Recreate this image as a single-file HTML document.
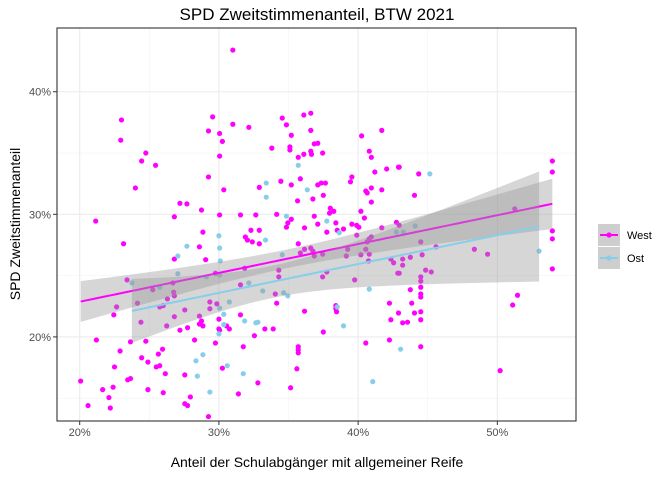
<!DOCTYPE html>
<html><head><meta charset="utf-8"><style>
html,body{margin:0;padding:0;background:#fff;}
svg{display:block;font-family:"Liberation Sans",sans-serif;}
</style></head><body>
<svg id="chart" width="672" height="480">
<text x="317" y="20" text-anchor="middle" font-size="17" fill="#000">SPD Zweitstimmenanteil, BTW 2021</text>
<g id="panel"></g>
<text x="317" y="467" text-anchor="middle" font-size="14" fill="#000">Anteil der Schulabgänger mit allgemeiner Reife</text>
<text transform="translate(20,224) rotate(-90)" text-anchor="middle" font-size="14" fill="#000">SPD Zweitstimmenanteil</text>
<g id="legend"></g>
</svg>
<script>
const westX=[23.0,22.95,24.75,24.45,25.45,24.0,21.15,27.2,27.7,28.75,26.8,29.55,29.25,30.05,30.25,30.05,29.25,30.35,30.05,31.0,31.0,32.15,34.55,36.1,36.6,34.85,36.6,35.2,40.25,41.7,33.8,35.1,35.1,36.85,37.1,35.7,36.1,36.6,36.65,37.45,40.8,40.95,41.2,42.05,42.9,39.55,39.45,32.9,34.45,35.85,35.2,37.1,37.35,37.65,35.65,36.75,37.5,40.55,40.65,40.95,41.7,40.95,38.0,38.25,37.95,40.2,40.45,31.55,32.65,34.15,35.2,34.95,34.85,36.85,37.1,38.4,39.55,39.9,40.05,42.75,36.15,38.95,41.7,28.85,28.6,23.15,26.8,29.05,23.4,25.25,26.75,26.8,26.3,24.15,22.65,26.0,25.75,22.45,27.55,29.35,29.85,29.35,28.6,26.8,24.4,28.75,28.6,28.85,30.0,26.25,27.2,27.75,30.0,30.05,30.55,30.75,29.75,26.7,21.2,23.65,24.75,22.9,25.95,25.65,24.45,24.9,28.25,29.75,22.5,25.5,25.75,26.15,27.55,30.25,20.07,21.65,22.4,23.45,23.65,22.1,24.9,26.0,27.95,20.6,22.2,27.55,27.75,29.25,32.3,32.9,31.9,32.05,32.4,32.9,37.75,38.5,39.9,35.7,35.85,36.15,36.6,36.75,36.85,37.45,39.15,39.25,40.2,40.55,40.8,40.75,40.65,40.8,40.95,42.35,42.55,42.85,31.85,34.3,34.3,31.55,34.05,34.15,37.45,37.75,39.75,36.15,38.4,38.4,38.45,42.25,42.35,42.9,31.55,33.3,33.9,32.55,37.5,31.75,35.7,35.7,35.7,40.55,42.25,35.6,32.8,35.15,31.4,42.95,44.35,44.05,53.95,53.95,51.25,42.95,53.95,53.95,53.95,44.5,45.6,48.35,49.3,44.6,43.75,43.2,43.2,42.95,44.85,45.25,44.5,44.5,44.5,43.75,44.5,44.5,43.85,51.45,51.1,44.05,44.5,43.2,43.55,44.5,44.5,50.2];
const westY=[37.7,36.05,35.0,34.35,34.0,32.15,29.45,30.9,30.85,30.35,29.8,37.95,36.8,36.6,35.95,34.75,33.05,32.0,29.95,43.4,37.35,37.1,37.85,38.1,38.25,37.3,36.85,36.45,36.4,36.85,35.4,35.5,35.25,35.75,35.8,34.65,34.9,35.15,34.9,35.0,35.15,34.65,33.45,33.7,33.85,33.05,32.65,32.2,32.7,32.9,32.4,32.4,32.55,32.55,31.1,31.25,31.55,31.9,31.75,32.15,32.0,31.0,30.5,30.25,30.1,30.25,29.7,29.95,29.95,30.0,29.6,29.3,28.95,29.85,29.2,29.3,29.2,29.1,28.95,29.35,28.9,28.8,28.9,28.55,27.35,27.6,26.35,26.3,24.65,23.85,23.65,23.35,23.1,22.75,22.45,22.55,22.45,21.8,22.2,22.85,22.7,22.3,21.7,21.65,21.2,21.3,21.05,20.9,21.45,20.9,20.55,20.75,20.65,20.55,20.9,20.65,25.2,24.4,19.75,19.6,19.65,18.85,19.0,18.6,18.3,17.95,19.75,19.5,17.55,17.55,17.65,17.0,16.9,17.45,16.4,15.7,15.9,16.5,16.6,15.05,15.7,15.45,15.1,14.4,14.2,14.55,14.4,13.5,28.7,28.7,28.15,27.9,27.75,27.6,28.55,28.7,28.3,27.6,26.85,27.15,27.25,27.0,26.6,26.75,26.6,27.15,26.7,27.15,26.75,26.2,27.75,28.0,28.15,26.35,26.05,25.2,25.6,25.45,24.9,24.25,23.5,22.75,24.9,25.3,24.65,22.1,22.55,22.3,22.05,22.75,21.4,21.95,21.8,20.65,20.65,20.1,20.4,19.2,19.2,18.95,18.7,19.5,19.75,17.4,16.25,15.85,15.35,33.85,33.3,31.55,34.35,33.45,30.45,29.1,28.65,28.0,25.55,27.75,27.35,27.15,26.75,26.7,26.5,26.35,25.85,25.2,25.45,25.3,24.9,24.55,24.05,23.85,23.5,23.25,22.75,23.4,22.6,21.95,22.05,21.15,21.2,21.4,19.2,17.25];
const ostX=[35.7,33.4,36.35,33.4,34.85,37.75,30.0,27.7,30.05,27.05,30.1,27.05,23.75,25.75,29.1,30.05,30.75,30.05,30.35,30.35,30.0,28.85,28.35,28.45,29.35,30.6,33.35,38.65,42.75,34.55,32.15,33.15,34.65,34.95,40.8,38.5,31.85,32.65,32.8,38.95,31.75,41.05,45.15,44.1,53.0,43.25,43.05];
const ostY=[34.0,32.55,32.0,31.4,29.85,29.45,28.25,27.4,27.25,26.6,26.2,25.15,24.4,24.05,24.9,25.05,22.85,22.35,21.85,21.0,20.25,18.55,18.05,16.8,15.5,17.65,27.9,28.5,28.55,26.7,24.4,23.75,23.6,23.35,23.9,22.45,21.3,21.15,21.2,20.9,17.0,16.35,33.3,29.05,27.0,28.55,19.0];
const xTicks=[20,30,40,50];
const yTicks=[20,30,40];
const xMinor=[25,35,45];
const yMinor=[15,25,35];

const NS="http://www.w3.org/2000/svg";
const P={l:57,r:576,t:28,b:421};
const xDom=[18.37,55.65], yDom=[13.14,45.2];
const sx=v=>P.l+(v-xDom[0])/(xDom[1]-xDom[0])*(P.r-P.l);
const sy=v=>P.b-(v-yDom[0])/(yDom[1]-yDom[0])*(P.b-P.t);
const panel=document.getElementById('panel');
function mk(tag,attrs,parent){const e=document.createElementNS(NS,tag);for(const k in attrs)e.setAttribute(k,attrs[k]);(parent||panel).appendChild(e);return e;}
mk('rect',{x:P.l,y:P.t,width:P.r-P.l,height:P.b-P.t,fill:'#fff'});
xMinor.forEach(v=>{const l=mk('line',{x1:sx(v),x2:sx(v),y1:P.t,y2:P.b,stroke:'#f2f2f2','stroke-width':0.6});});
yMinor.forEach(v=>{const l=mk('line',{x1:P.l,x2:P.r,y1:sy(v),y2:sy(v),stroke:'#f2f2f2','stroke-width':0.6});});
xTicks.forEach(v=>{const l=mk('line',{x1:sx(v),x2:sx(v),y1:P.t,y2:P.b,stroke:'#ebebeb','stroke-width':1.1});
 const t=mk('line',{x1:sx(v),x2:sx(v),y1:P.b,y2:P.b+4,stroke:'#333','stroke-width':1});
 const tx=mk('text',{x:sx(v),y:P.b+15,'text-anchor':'middle','font-size':11,fill:'#4d4d4d'});tx.textContent=v+'%';
 });
yTicks.forEach(v=>{const l=mk('line',{x1:P.l,x2:P.r,y1:sy(v),y2:sy(v),stroke:'#ebebeb','stroke-width':1.1});
 mk('line',{x1:P.l-4,x2:P.l,y1:sy(v),y2:sy(v),stroke:'#333','stroke-width':1});
 const tx=mk('text',{x:P.l-6,y:sy(v)+4,'text-anchor':'end','font-size':11,fill:'#4d4d4d'});tx.textContent=v+'%';
 });

function pts(xs,ys,col,name){xs.forEach((x,i)=>{const c=mk('circle',{cx:sx(x),cy:sy(ys[i]),r:2.6,fill:col});
 
 });}
pts(westX,westY,'#ff00ff','point-west');
pts(ostX,ostY,'#87ceeb','point-ost');

function fit(xs,ys,col,name){const n=xs.length;const mx=xs.reduce((a,b)=>a+b)/n,my=ys.reduce((a,b)=>a+b)/n;
 let sxx=0,sxy=0;xs.forEach((x,i)=>{sxx+=(x-mx)**2;sxy+=(x-mx)*(ys[i]-my);});
 const b=sxy/sxx,a=my-b*mx;let sse=0;xs.forEach((x,i)=>{sse+=(ys[i]-a-b*x)**2;});
 const s=Math.sqrt(sse/(n-2)),t=1.97;const x0=Math.min(...xs),x1=Math.max(...xs);
 const up=[],lo=[],ln=[];for(let k=0;k<=80;k++){const x=x0+(x1-x0)*k/80;const y=a+b*x;const h=t*s*Math.sqrt(1/n+(x-mx)**2/sxx);
  up.push(sx(x)+','+sy(y+h));lo.unshift(sx(x)+','+sy(y-h));ln.push(sx(x)+','+sy(y));}
 const r=mk('polygon',{points:up.concat(lo).join(' '),fill:'#999999','fill-opacity':0.4});
 
 
 const l=mk('polyline',{points:ln.join(' '),fill:'none',stroke:col,'stroke-width':2});
 
 }
fit(westX,westY,'#ff00ff','west');
fit(ostX,ostY,'#87ceeb','ost');
mk('rect',{x:P.l,y:P.t,width:P.r-P.l,height:P.b-P.t,fill:'none',stroke:'#333','stroke-width':1.1});

const lg=document.getElementById('legend');
[['West','#ff00ff',235],['Ost','#87ceeb',258]].forEach(([lab,col,y])=>{
 const g=mk('g',{},lg);
 
 
 mk('rect',{x:598,y:y-11,width:22,height:22,fill:'#f2f2f2'},g);
 mk('rect',{x:598,y:y-11,width:22,height:22,fill:'#999999','fill-opacity':0.4},g);
 mk('line',{x1:600,x2:618,y1:y,y2:y,stroke:col,'stroke-width':2},g);
 mk('circle',{cx:609,cy:y,r:2.6,fill:col},g);
 const t=mk('text',{x:627,y:y+4,'font-size':11,fill:'#000'},g);t.textContent=lab;});
</script>
</body></html>
